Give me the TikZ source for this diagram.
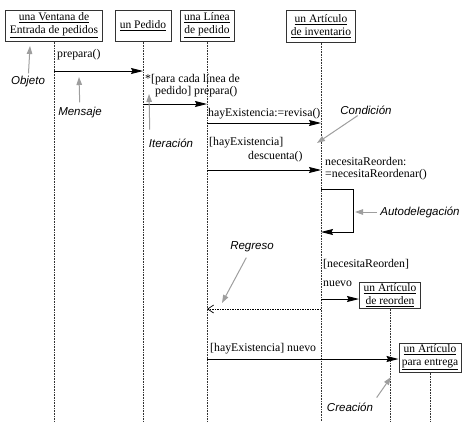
\documentclass[tikz,border=0pt]{standalone}
\usepackage{fontspec}
\usepackage{tikz}
\usetikzlibrary{arrows.meta, positioning}
\setmainfont{Liberation Serif}
\newfontfamily\notefont{Liberation Sans}
\definecolor{notegray}{gray}{0.62}
\tikzstyle{objbox} = [rectangle, draw=black!80, line width=1pt, fill=white, text centered, align=center, inner sep=1pt, font=\fontsize{11.5}{13}\selectfont]
\tikzstyle{lifeline} = [black!80, line width=0.9pt, dash pattern=on 0.9pt off 0.7pt]
\tikzstyle{msg} = [line width=0.9pt, -{Stealth[length=12pt,width=6pt,inset=1.5pt]}]
\tikzstyle{reply} = [line width=0.7pt, dash pattern=on 1.5pt off 1pt, -{Straight Barb[length=6pt,width=8pt]}]
\tikzstyle{msgtext} = [anchor=north west, inner sep=0pt, align=left, font=\fontsize{11.8}{12.5}\selectfont]
\tikzstyle{note} = [notegray, line width=1pt, -{Triangle[length=8pt,width=5.5pt]}]
\tikzstyle{notetext} = [inner sep=0pt, font=\notefont\itshape\fontsize{11.5}{13}\selectfont]

\begin{document}
\begin{tikzpicture}[x=1pt, y=-1pt]
        \useasboundingbox (0,0) rectangle (462,421);

        \node (ventana) [objbox, minimum width=97pt, minimum height=31pt] at (54,25.5) {\underline{una Ventana de}\\\underline{Entrada de pedidos}};
        \node (pedido) [objbox, minimum width=56pt, minimum height=31pt] at (143,25.5) {\underline{un Pedido}};
        \node (linea) [objbox, minimum width=54pt, minimum height=31pt] at (207,25.5) {\underline{una Línea}\\\underline{de pedido}};
        \node (inventario) [objbox, minimum width=69pt, minimum height=32pt] at (321,26) {\underline{un Artículo}\\\underline{de inventario}};
        \node (reorden) [objbox, minimum width=61pt, minimum height=26pt] at (390,295) {\underline{un Artículo}\\\underline{de reorden}};
        \node (entrega) [objbox, minimum width=62pt, minimum height=29pt] at (430,357.5) {\underline{un Artículo}\\\underline{para entrega}};
        \coordinate (bottom) at (0,421);

        \node (prepara) [msgtext] at (57,49) {prepara()};
        \node (iter) [msgtext] at (145,74) {*[para cada línea de\\\hspace*{10pt}pedido] prepara()};
        \node (revisa) [msgtext] at (208,108) {hayExistencia:=revisa()};
        \node (descuenta) [msgtext] at (209,137) {[hayExistencia]\\[2pt]\hspace*{39pt}descuenta()};
        \node (necesita) [msgtext] at (325,157) {necesitaReorden:\\=necesitaReordenar()};
        \node (nuevo1) [msgtext] at (323,259) {[necesitaReorden]\\[7pt]nuevo};
        \node (nuevo2) [msgtext] at (210,343) {[hayExistencia] nuevo};

        \coordinate (m1) at (0,71);
        \coordinate (m2) at (0,104);
        \coordinate (m3) at (0,123);
        \coordinate (m4) at (0,170);
        \coordinate (loop) at (353,189);
        \coordinate (m5) at (0,232);
        \coordinate (m6) at (0,299);
        \coordinate (m7) at (0,309);
        \coordinate (m8) at (0,359);

        \node (objeto) [notetext] at (28,82) {Objeto};
        \node (mensaje) [notetext] at (80,113) {Mensaje};
        \node (iteracion) [notetext] at (171,143) {Iteración};
        \node (condicion) [notetext] at (366,110) {Condición};
        \node (autodel) [notetext] at (420,212) {Autodelegación};
        \node (regreso) [notetext] at (252,247) {Regreso};
        \node (creacion) [notetext] at (350,407) {Creación};
        \coordinate (objetotip) at (30,46);
        \coordinate (mensajetip) at (79,77);
        \coordinate (itertip) at (149,94);
        \coordinate (condiciontip) at (317,143);
        \coordinate (autodeltip) at (355,212);
        \coordinate (regresotip) at (222,303);
        \coordinate (creaciontip) at (391,377);

        \draw [lifeline] (ventana.south) -- (ventana.south |- bottom);
        \draw [lifeline] (pedido.south) -- (pedido.south |- bottom);
        \draw [lifeline] (linea.south) -- (linea.south |- bottom);
        \draw [lifeline] (inventario.south) -- (inventario.south |- bottom);
        \draw [lifeline] (reorden.south) -- (reorden.south |- bottom);
        \draw [lifeline] (entrega.south) -- (entrega.south |- bottom);

        \draw [msg] (ventana |- m1) -- (pedido |- m1);
        \draw [msg] (pedido |- m2) -- (linea |- m2);
        \draw [msg] (linea |- m3) -- (inventario |- m3);
        \draw [msg] (linea |- m4) -- (inventario |- m4);
        \draw [msg] (inventario |- loop) -- (loop) |- (inventario |- m5);
        \draw [msg] (inventario |- m6) -- (reorden.west |- m6);
        \draw [reply] (inventario |- m7) -- (linea |- m7);
        \draw [msg] (linea |- m8) -- (entrega.west |- m8);

        \draw [note, shorten <=3pt] (objeto) -- (objetotip);
        \draw [note, shorten <=5pt] (mensaje) -- (mensajetip);
        \draw [note] ([xshift=1pt, yshift=9pt]iteracion.north west) -- (itertip);
        \draw [note, shorten <=2pt] (condicion) -- (condiciontip);
        \draw [note, shorten <=3pt] (autodel) -- (autodeltip);
        \draw [note, shorten <=6pt] (regreso) -- (regresotip);
        \draw [note, shorten <=6pt] (creacion.north east) -- (creaciontip);
\end{tikzpicture}
\end{document}
